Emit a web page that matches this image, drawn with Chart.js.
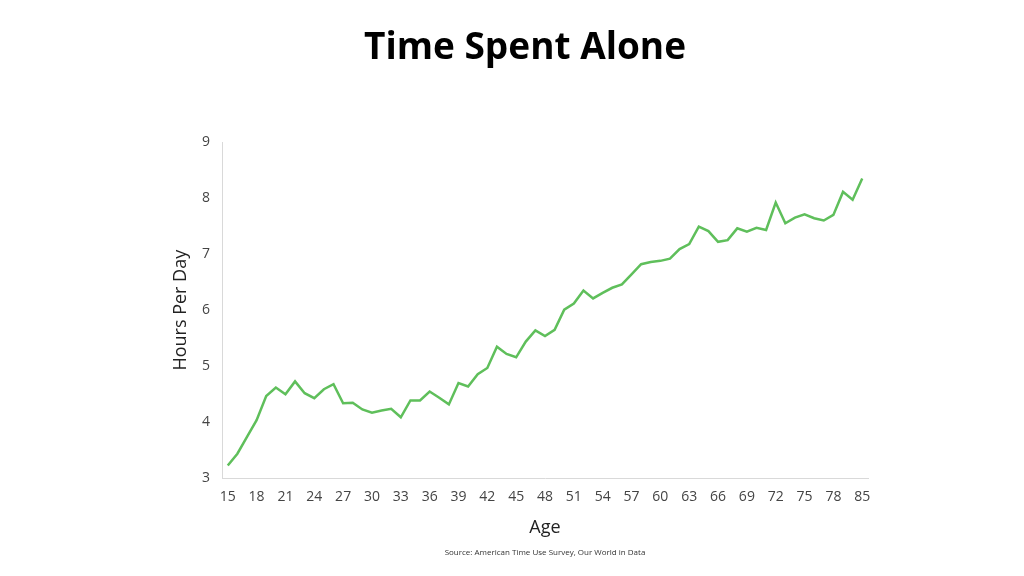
<!DOCTYPE html>
<html>
<head>
<meta charset="utf-8">
<script src="https://cdn.jsdelivr.net/npm/chart.js@4"></script>
<style>
html,body{margin:0;padding:0;background:#fff;}
#wrap{position:relative;width:1024px;height:576px;}
</style>
</head>
<body>
<div id="wrap"><canvas id="c" width="1024" height="576"></canvas></div>
<script>
const ageLabels = ['15','16','17','18','19','20','21','22','23','24','25','26','27','28','29','30','31','32','33','34','35','36','37','38','39','40','41','42','43','44','45','46','47','48','49','50','51','52','53','54','55','56','57','58','59','60','61','62','63','64','65','66','67','68','69','70','71','72','73','74','75','76','77','78','79','80','85'];
const hoursAlone = [3.23,3.44,3.74,4.04,4.47,4.62,4.50,4.73,4.52,4.43,4.59,4.68,4.34,4.35,4.23,4.17,4.21,4.24,4.09,4.39,4.39,4.55,4.44,4.32,4.70,4.64,4.86,4.97,5.35,5.22,5.16,5.44,5.64,5.54,5.65,6.01,6.12,6.35,6.21,6.31,6.40,6.46,6.64,6.82,6.86,6.88,6.92,7.09,7.18,7.49,7.41,7.22,7.25,7.46,7.40,7.47,7.43,7.92,7.55,7.65,7.71,7.64,7.60,7.70,8.11,7.97,8.35];
const yTicks = [3,4,5,6,7,8,9];
const titleText = 'Time Spent Alone';
const sourceText = 'Source: American Time Use Survey, Our World in Data';

const FONT = "'Open Sans', 'DejaVu Sans', sans-serif";
const points = hoursAlone.map((v,i)=>({x:i,y:v}));

const titlePlugin = {
  id: 'topTitle',
  afterDraw(chart) {
    const ctx = chart.ctx;
    ctx.save();
    ctx.font = "bold 37px " + FONT;
    ctx.fillStyle = '#000';
    ctx.textAlign = 'center';
    ctx.textBaseline = 'middle';
    ctx.fillText(titleText, 525, 48);
    ctx.restore();
  }
};

new Chart(document.getElementById('c'), {
  type: 'line',
  data: { datasets: [{
    data: points,
    borderColor: '#5fbf5b',
    borderWidth: 2.5,
    pointRadius: 0,
    tension: 0,
    fill: false
  }]},
  plugins: [titlePlugin],
  options: {
    responsive: false,
    animation: false,
    layout: { padding: { left: 168, right: 156, top: 142, bottom: 0 } },
    plugins: {
      legend: { display: false },
      tooltip: { enabled: false },
      title: { display: false },
      subtitle: {
        display: true, position: 'bottom', text: sourceText, color: '#333',
        fullSize: false,
        font: { family: FONT, size: 8 },
        padding: { top: 10, bottom: 18 }
      }
    },
    scales: {
      x: {
        type: 'linear', min: -0.6, max: 66.6,
        afterBuildTicks: (axis) => {
          axis.ticks = ageLabels.map((l,i)=>i).filter(i=>i%3===0).map(v=>({value:v}));
        },
        afterFit: (s) => { s.height = 60; },
        grid: { display: false, drawTicks: false },
        border: { display: true, color: '#d9d9d9', width: 1 },
        ticks: {
          autoSkip: false, maxRotation: 0, padding: 10, color: '#444',
          font: { family: FONT, size: 14 },
          callback: (v) => ageLabels[v] !== undefined ? ageLabels[v] : ''
        },
        title: { display: true, text: 'Age', color: '#222',
          font: { family: FONT, size: 18 }, padding: { top: 4, bottom: 0 } }
      },
      y: {
        min: 3, max: 9,
        afterBuildTicks: (axis) => { axis.ticks = yTicks.map(v=>({value:v})); },
        afterFit: (s) => { s.width = 54; },
        grid: { display: false, drawTicks: false },
        border: { display: true, color: '#d9d9d9', width: 1 },
        ticks: { padding: 12, color: '#444', font: { family: FONT, size: 14 } },
        title: { display: true, text: 'Hours Per Day', color: '#222',
          font: { family: FONT, size: 18 }, padding: { top: 2, bottom: 4 } }
      }
    }
  }
});
</script>
</body>
</html>
